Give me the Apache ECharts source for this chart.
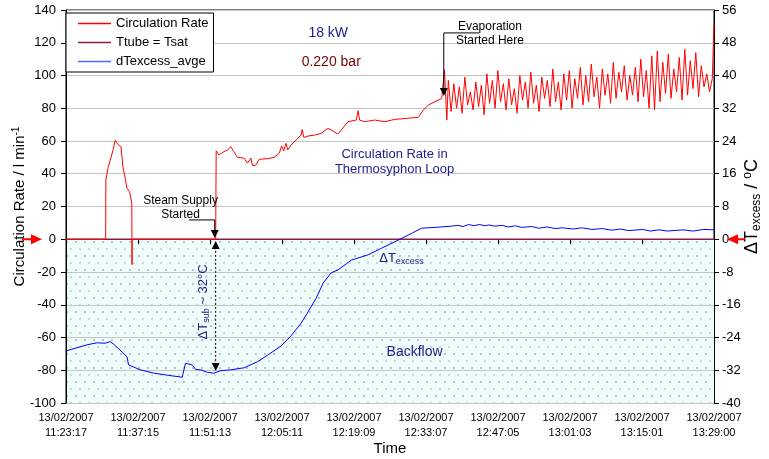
<!DOCTYPE html>
<html><head><meta charset="utf-8">
<script src="https://cdn.jsdelivr.net/npm/echarts@6/dist/echarts.min.js"></script>
<style>html,body{margin:0;padding:0;background:#fff}#c{width:769px;height:459px}</style>
</head><body><div id="c"></div>
<script>
// x values are seconds after 13/02/2007 11:23:17
const xTickLabels = ['13/02/2007\n11:23:17','13/02/2007\n11:37:15','13/02/2007\n11:51:13','13/02/2007\n12:05:11','13/02/2007\n12:19:09','13/02/2007\n12:33:07','13/02/2007\n12:47:05','13/02/2007\n13:01:03','13/02/2007\n13:15:01','13/02/2007\n13:29:00'];
const xTickStep = 838;
const seriesNames = ['Circulation Rate','Ttube = Tsat','dTexcess_avge'];

// Circulation rate (l/min), start-up part
const circulationStartup = [[0,0],[462,0],[464,36],[491,44],[514,48],[534,49],[550,55],[573,60.5],[590,59],[612,57.5],[640,56.5],[663,44],[690,37],[710,31],[740,29],[757,28],[766,22],[768,-15.5],[770,0],[1742,0],[1748,54],[1781,51.5],[1821,53],[1879,54.5],[1918,56.5],[1953,53.5],[1996,50],[2073,49.5],[2113,46.5],[2152,49.6],[2171,45],[2210,45.3],[2249,48.8],[2347,49.2],[2424,50],[2482,52.5],[2510,57],[2534,54],[2561,58.6],[2581,54.5],[2619,57.5],[2678,60.6],[2736,63.6],[2748,67],[2768,62.2],[2815,63],[2892,63.6],[2970,64.7],[3048,67.7],[3087,66.7],[3165,64.3],[3204,66.7],[3282,71.8],[3379,72.8],[3399,78.5],[3418,72.8],[3476,71.8],[3593,72.8],[3710,71.8],[3827,73.2],[3984,73.9],[4101,74.5],[4159,78.9],[4218,82],[4295,84],[4373,86],[4405,103.4],[4432,72.8]];
// Circulation rate (l/min), oscillating part after evaporation
const circulationOscillating = [[4450,97],[4482,78],[4514,95],[4546,80],[4578,93],[4610,77],[4642,99],[4674,82],[4706,90],[4738,79],[4770,96],[4802,81],[4834,94],[4866,76],[4898,101],[4930,83],[4962,97],[4994,80],[5026,103],[5058,84],[5090,95],[5122,79],[5154,98],[5186,82],[5218,92],[5250,77],[5282,100],[5314,85],[5346,96],[5378,80],[5410,102],[5442,83],[5474,94],[5506,78],[5538,99],[5570,86],[5602,97],[5634,81],[5666,104],[5698,84],[5730,96],[5762,79],[5794,101],[5826,85],[5858,103],[5890,80],[5922,98],[5954,86],[5986,105],[6018,82],[6050,100],[6082,84],[6114,107],[6146,87],[6178,99],[6210,80],[6242,104],[6274,88],[6306,101],[6338,83],[6370,108],[6402,86],[6434,102],[6466,90],[6498,106],[6530,85],[6562,100],[6594,88],[6626,105],[6658,84],[6690,110],[6722,87],[6754,103],[6786,80],[6818,112],[6850,79],[6882,115],[6914,84],[6946,108],[6978,89],[7010,113],[7042,86],[7074,104],[7106,90],[7138,111],[7170,85],[7202,116],[7234,88],[7266,109],[7298,92],[7330,114],[7362,87],[7394,106],[7426,93],[7458,101],[7490,90],[7522,98],[7540,99],[7542,131]];
// Ttube = Tsat reference (zero line)
const saturationLine = [[0,0],[7542,0]];
// dTexcess_avge (deg C, right axis)
const excessTemp = [[0,-27.3],[47,-27],[242,-25.8],[359,-25.3],[456,-25.4],[514,-25],[553,-25.6],[651,-27.5],[710,-28.7],[728,-30.7],[748,-31.1],[865,-31.9],[1021,-32.7],[1177,-33.2],[1353,-33.7],[1391,-30.3],[1411,-29.9],[1470,-30.7],[1508,-31.8],[1567,-31.9],[1645,-32.5],[1722,-32.7],[1801,-32.1],[1918,-31.9],[2073,-31.4],[2230,-29.9],[2347,-28.3],[2502,-26.1],[2619,-23.6],[2736,-20.5],[2795,-18.5],[2912,-14.4],[2993,-10.7],[3087,-8.2],[3165,-7.5],[3321,-5.1],[3516,-3.8],[3672,-2.2],[3867,-0.2],[4022,1.45],[4139,2.7],[4295,2.9],[4490,3.2],[4560,3.4],[4620,3.1],[4685,3.6],[4750,3.3],[4810,3.6],[4880,3.3],[4919,3.5],[4990,3.2],[5075,3.4],[5150,3.0],[5230,3.3],[5300,2.9],[5426,3.1],[5500,2.7],[5600,3.0],[5700,2.6],[5776,2.8],[5900,2.5],[6000,2.8],[6120,2.4],[6244,2.6],[6350,2.2],[6450,2.5],[6550,2.1],[6712,2.4],[6800,2.0],[6900,2.3],[7000,2.0],[7180,2.3],[7300,2.0],[7420,2.4],[7542,2.3]];

const FONT = '"Liberation Sans", Arial, sans-serif';
const NAVY = '#1c1c8c';

// dotted backflow pattern
const pat = document.createElement('canvas');
pat.width = 18; pat.height = 14;
const pc = pat.getContext('2d');
pc.fillStyle = '#effcfc'; pc.fillRect(0,0,18,14);
pc.fillStyle = '#b8c4c4';
pc.fillRect(3,3,2,2); pc.fillRect(12,3,2,2);
pc.fillStyle = '#cfd8d8';
pc.fillRect(7,10,2,2); pc.fillRect(16,10,2,2);

const chart = echarts.init(document.getElementById('c'), null, {renderer:'canvas'});
chart.setOption({
  animation: false,
  textStyle: {fontFamily: FONT},
  grid: {left: 66, right: 55, top: 10, bottom: 56, show: true, borderColor: '#000', borderWidth: 1, outerBoundsMode: 'none', containLabel: false},
  legend: {
    data: seriesNames.map(n => ({name: n, icon: 'path://M0,0h33v1.5h-33z'})), orient: 'vertical', left: 66, top: 13,
    backgroundColor: '#fff', borderColor: '#000', borderWidth: 1,
    padding: [4, 5, 4, 12], itemGap: 6, itemWidth: 33, itemHeight: 14,
    textStyle: {fontSize: 13, color: '#000', fontFamily: FONT}, z: 10
  },
  xAxis: {
    type: 'value', min: 0, max: xTickStep * (xTickLabels.length - 1), interval: xTickStep,
    name: 'Time', nameLocation: 'middle', nameGap: 38, nameMoveOverlap: false,
    nameTextStyle: {fontSize: 15, color: '#000', fontFamily: FONT},
    axisLine: {lineStyle: {color: '#000'}},
    axisTick: {show: true, length: 5, lineStyle: {color: '#000'}},
    axisLabel: {fontSize: 11, color: '#000', lineHeight: 15, margin: 7, fontFamily: FONT, interval: 0,
      showMinLabel: true, showMaxLabel: true, hideOverlap: false,
      formatter: v => xTickLabels[Math.round(v / xTickStep)] || ''},
    splitLine: {show: false}, z: 2
  },
  yAxis: [{
    type: 'value', min: -100, max: 140, interval: 20, position: 'left',
    name: '{n|Circulation Rate / l min}{s|-1}', nameLocation: 'middle', nameGap: 37, nameRotate: 90, nameMoveOverlap: false,
    nameTextStyle: {fontSize: 15, color: '#000', fontFamily: FONT,
      rich: {n: {fontSize: 15, fontFamily: FONT, color: '#000'}, s: {fontSize: 10, fontFamily: FONT, color: '#000', padding: [0,0,8,0]}}},
    axisLine: {show: true, lineStyle: {color: '#000'}},
    axisTick: {show: true, length: 5, lineStyle: {color: '#000'}},
    axisLabel: {fontSize: 13, color: '#000', margin: 10, fontFamily: FONT, showMinLabel: true, showMaxLabel: true},
    splitLine: {show: true, lineStyle: {color: '#c4c4c4', width: 1}}, z: 2
  }, {
    type: 'value', min: -40, max: 56, interval: 8, position: 'right',
    name: '{d|ΔT}{s|excess}{d| / }{u|o}{d|C}', nameLocation: 'middle', nameGap: 28, nameRotate: 90, nameMoveOverlap: false,
    nameTextStyle: {fontSize: 18, color: '#000', fontFamily: FONT,
      rich: {d: {fontSize: 18, fontFamily: FONT, color: '#000'},
             s: {fontSize: 12, fontFamily: FONT, color: '#000', padding: [9,0,0,0]},
             u: {fontSize: 12, fontFamily: FONT, color: '#000', padding: [0,0,9,0]}}},
    axisLine: {show: true, lineStyle: {color: '#000'}},
    axisTick: {show: true, length: 5, lineStyle: {color: '#000'}},
    axisLabel: {fontSize: 13, color: '#000', margin: 8, fontFamily: FONT, showMinLabel: true, showMaxLabel: true},
    splitLine: {show: false}, z: 2
  }],
  series: [
    {type: 'line', name: 'backflowArea', data: [[0,0]], symbol: 'none', z: 1,
     lineStyle: {opacity: 0}, silent: true,
     markArea: {silent: true, itemStyle: {color: {image: pat, repeat: 'repeat'}},
       data: [[{yAxis: 0}, {yAxis: -100}]]}},
    {type: 'line', name: seriesNames[1], data: saturationLine, symbol: 'none', z: 3,
     lineStyle: {color: '#8a1848', width: 1.5}, itemStyle: {color: '#8a1848'}},
    {type: 'line', name: seriesNames[0], data: circulationStartup.concat(circulationOscillating), symbol: 'none', z: 4,
     lineStyle: {color: '#ff0000', width: 1}, itemStyle: {color: '#ff0000'}},
    {type: 'line', name: seriesNames[2], yAxisIndex: 1, data: excessTemp, symbol: 'none', z: 4,
     lineStyle: {color: '#0000ff', width: 1}, itemStyle: {color: '#4a6cff'}}
  ]
});

// annotations positioned in data coordinates (seconds, left-axis value)
function P(t, v) { return chart.convertToPixel({xAxisIndex: 0, yAxisIndex: 0}, [t, v]); }
function down(x, y) { return {type: 'polygon', shape: {points: [[x-4,y-8],[x+4,y-8],[x,y]]}, style: {fill: '#000'}, z: 20}; }
function up(x, y) { return {type: 'polygon', shape: {points: [[x-4,y+8],[x+4,y+8],[x,y]]}, style: {fill: '#000'}, z: 20}; }
function txt(t, v, text, color, size, lh) {
  const p = P(t, v);
  return {type: 'text', x: p[0], y: p[1], z: 20,
    style: {text: text, fill: color, font: size + 'px ' + FONT, align: 'center', verticalAlign: 'middle', lineHeight: lh || (size + 1)}};
}
const g = [];
// Steam supply started arrow
const s1 = P(1430, 11.8), s2 = P(1731, 11.8), s3 = P(1731, 0.8);
g.push({type: 'polyline', shape: {points: [s1, s2, [s2[0], s3[1] - 6]]}, style: {stroke: '#000', lineWidth: 1, fill: null}, z: 20});
g.push(down(s3[0], s3[1]));
// subcooling double arrow
const d1 = P(1742, -1), d2 = P(1742, -80.5);
g.push({type: 'line', shape: {x1: d1[0], y1: d1[1] + 6, x2: d2[0], y2: d2[1] - 6}, style: {stroke: '#000', lineWidth: 1, lineDash: [2, 2]}, z: 20});
g.push(up(d1[0], d1[1])); g.push(down(d2[0], d2[1]));
// evaporation arrow
const e1 = P(4806, 126), e2 = P(4397, 126), e3 = P(4397, 87.5);
g.push({type: 'polyline', shape: {points: [e1, e2, [e2[0], e3[1] - 6]]}, style: {stroke: '#000', lineWidth: 1, fill: null}, z: 20});
g.push(down(e3[0], e3[1]));
// texts
g.push(txt(3052, 126, '18 kW', NAVY, 14));
g.push(txt(3087, 108.2, '0.220 bar', '#7a0000', 14));
g.push(txt(3824, 47.2, 'Circulation Rate in\nThermosyphon Loop', NAVY, 13, 15));
g.push(txt(4057, -68.9, 'Backflow', NAVY, 14));
g.push(txt(1333, 19.1, 'Steam Supply\nStarted', '#000', 12, 14));
g.push(txt(4934, 125.6, 'Evaporation\nStarted Here', '#000', 12, 14));
const ex = P(3905, -11.5);
g.push({type: 'text', x: ex[0], y: ex[1], z: 20, style: {text: '{a|ΔT}{s|excess}', align: 'center', verticalAlign: 'middle',
  rich: {a: {fontSize: 13, fontFamily: FONT, fill: NAVY, color: NAVY}, s: {fontSize: 9, fontFamily: FONT, fill: NAVY, color: NAVY, padding: [6,0,0,0]}}}});
const sb = P(1602, -38.3);
g.push({type: 'text', x: sb[0], y: sb[1], rotation: Math.PI / 2, z: 20, style: {text: '{a|ΔT}{s|sub}{a| ~ 32°C}', align: 'center', verticalAlign: 'middle',
  rich: {a: {fontSize: 13, fontFamily: FONT, fill: NAVY, color: NAVY}, s: {fontSize: 9, fontFamily: FONT, fill: NAVY, color: NAVY, padding: [6,0,0,0]}}}});
// red zero markers outside the axes
const z0 = P(0, 0)[1];
g.push({type: 'line', shape: {x1: 22, y1: z0, x2: 33, y2: z0}, style: {stroke: '#ff0000', lineWidth: 2}, z: 20});
g.push({type: 'polygon', shape: {points: [[31, z0-5],[31, z0+5],[42, z0]]}, style: {fill: '#ff0000'}, z: 20});
g.push({type: 'line', shape: {x1: 735, y1: z0, x2: 745, y2: z0}, style: {stroke: '#ff0000', lineWidth: 2}, z: 20});
g.push({type: 'polygon', shape: {points: [[738, z0-5],[738, z0+5],[727, z0]]}, style: {fill: '#ff0000'}, z: 20});
chart.setOption({graphic: g});
</script>
</body></html>
